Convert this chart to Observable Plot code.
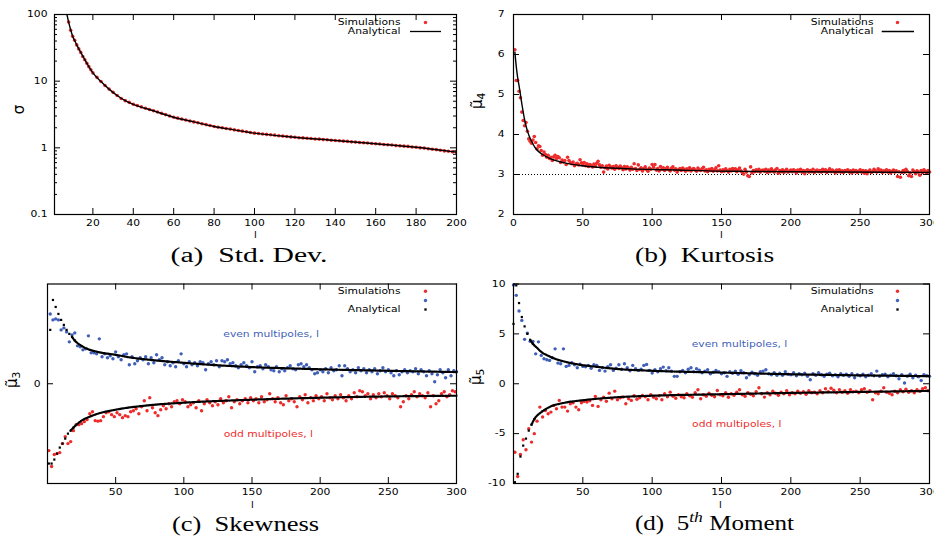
<!DOCTYPE html>
<html><head><meta charset="utf-8">
<script src="https://cdn.jsdelivr.net/npm/d3@7"></script>
<script src="https://cdn.jsdelivr.net/npm/@observablehq/plot@0.6"></script>
<style>
body{margin:0;background:#fff;}
#wrap{position:relative;width:934px;height:537px;overflow:hidden;background:#fff;}
.cap{position:absolute;font-family:"Liberation Serif",serif;font-size:20px;line-height:1;white-space:pre;color:#000;}
.ylab{position:absolute;font-family:"DejaVu Sans",sans-serif;font-size:15px;line-height:1;white-space:pre;color:#000;}
.ylab sub{font-size:0.72em;vertical-align:-0.25em;}
</style></head>
<body><div id="wrap"></div>
<script>
// ---------------- DATA ----------------
const RED = "#ee2b2b", BLUE = "#3f5fb8";

// (a) Std. Dev. — simulations (l = 8..19, then 20..200 step 2)
const aSimL = [...d3.range(8, 20), ...d3.range(20, 201, 2)];
const aSim = [77,58,47,41,35,30.5,27,23.5,21,18.5,16.5,14.8,
  13.3,11.4,9.9,8.6,7.6,6.8,6.1,5.5,5.1,4.8,
  4.5,4.30,4.11,3.93,3.76,3.60,3.44,3.29,3.15,3.01,
  2.88,2.79,2.70,2.62,2.53,2.45,2.38,2.30,2.23,2.16,
  2.09,2.04,2.00,1.95,1.91,1.86,1.82,1.78,1.74,1.70,
  1.66,1.64,1.61,1.59,1.57,1.55,1.52,1.50,1.48,1.46,
  1.44,1.42,1.41,1.39,1.38,1.36,1.35,1.33,1.32,1.30,
  1.29,1.28,1.26,1.25,1.23,1.22,1.20,1.19,1.18,1.16,
  1.15,1.14,1.12,1.11,1.10,1.08,1.07,1.06,1.05,1.03,
  1.02,1.00,0.99,0.97,0.95,0.94,0.92,0.90,0.89,0.87,
  0.86];
// (a) analytical curve
const aAnaL = [7,8,9,10,11,12,14,16,18,20,24,28,32,36,40,50,60,70,80,90,100,120,140,160,180,200];
const aAna  = [105,77,59,47,40.5,35,27,21,16.5,13.3,9.9,7.6,6.1,5.1,4.5,3.6,2.88,2.45,2.09,1.86,1.66,1.44,1.29,1.15,1.02,0.86];
const aXTicks = [20,40,60,80,100,120,140,160,180,200];
const aYTicks = [0.1,1,10,100];
const aYMinor = [0.2,0.3,0.4,0.5,0.6,0.7,0.8,0.9,2,3,4,5,6,7,8,9,20,30,40,50,60,70,80,90];

// (b) Kurtosis — simulations for l = 1..300
const bSim = [
 6.12,5.35,5.35,5.08,4.92,4.56,4.35,4.22,4.30,4.08,
 3.89,3.83,3.78,3.86,3.95,3.80,3.64,3.72,3.70,3.60,
 3.48,3.56,3.50,3.43,3.48,3.40,3.43,3.35,3.44,3.48,
 3.40,3.45,3.42,3.30,3.36,3.32,3.35,3.25,3.43,3.35,
 3.30,3.27,3.31,3.22,3.26,3.28,3.24,3.37,3.29,3.24,
 3.30,3.22,3.27,3.20,3.25,3.23,3.19,3.26,3.21,3.28,
 3.33,3.24,3.18,3.22,3.06,3.17,3.21,3.14,3.23,3.19,
 3.16,3.20,3.13,3.22,3.18,3.15,3.21,3.17,3.12,3.20,
 3.14,3.19,3.16,3.11,3.18,3.13,3.27,3.15,3.10,3.24,
 3.13,3.17,3.09,3.14,3.19,3.12,3.08,3.16,3.13,3.25,
 3.18,3.25,3.11,3.15,3.09,3.20,3.13,3.17,3.10,3.14,
 3.18,3.12,3.09,3.16,3.19,3.11,3.14,3.06,3.12,3.15,
 3.10,3.16,3.13,3.08,3.14,3.11,3.17,3.09,3.13,3.15,
 3.11,3.08,3.16,3.12,3.10,3.14,3.18,3.09,3.12,3.07,
 3.13,3.10,3.15,3.08,3.12,3.17,3.09,3.22,3.11,3.07,
 3.12,3.08,3.14,3.10,3.06,3.13,3.09,3.15,3.11,3.14,
 3.07,3.12,3.16,3.09,3.05,3.01,3.13,3.06,2.97,2.95,
 3.19,3.04,3.10,3.07,3.12,3.08,3.13,3.06,3.10,3.11,
 3.08,3.13,3.05,3.11,3.07,3.14,3.09,3.06,3.12,3.15,
 3.03,3.10,3.07,3.12,3.05,3.09,3.13,3.06,3.08,3.11,
 3.07,3.12,3.09,3.04,3.11,3.08,3.13,3.06,3.10,3.02,
 3.09,3.12,3.06,3.10,3.07,3.13,3.05,3.09,3.11,3.07,
 3.10,3.06,3.13,3.08,3.12,3.05,3.09,3.14,3.07,3.11,
 3.08,3.04,3.11,3.07,3.12,3.06,3.09,3.05,3.10,3.08,
 3.12,3.06,3.09,3.04,3.11,3.07,3.10,3.05,3.08,3.12,
 3.06,3.10,3.03,3.09,3.02,3.08,3.11,3.05,3.07,3.13,
 3.09,3.06,3.14,3.08,3.11,3.05,3.09,3.07,3.12,3.06,
 3.10,3.04,3.08,3.11,3.06,3.09,2.95,3.07,2.93,3.05,
 3.10,3.06,3.13,3.08,2.97,3.04,2.95,3.11,3.07,3.02,
 3.09,3.06,2.98,3.10,3.05,3.12,3.08,3.04,3.10,3.06];
const bAnaL = [1,2,3,4,6,8,10,13,16,21,27,37,49,61,85,110,157,205,300];
const bAna  = [6.06,5.7,5.42,5.22,4.77,4.37,4.09,3.83,3.65,3.5,3.39,3.29,3.22,3.18,3.14,3.12,3.08,3.07,3.05];
const bGauss = 3;
const bXTicks = [0,50,100,150,200,250,300];
const bYTicks = [2,3,4,5,6,7];

// (c) Skewness — even l = 2..300 (blue), odd l = 1..299 (red)
const cEven = [
 0.70,0.64,0.65,0.64,0.54,0.56,0.52,0.42,0.49,0.51,
 0.38,0.37,0.34,0.35,0.48,0.31,0.31,0.30,0.45,0.27,
 0.30,0.26,0.28,0.25,0.32,0.27,0.24,0.29,0.30,0.19,
 0.27,0.20,0.23,0.26,0.24,0.27,0.20,0.26,0.21,0.29,
 0.24,0.26,0.19,0.22,0.18,0.21,0.17,0.23,0.30,0.20,
 0.17,0.22,0.19,0.21,0.18,0.22,0.21,0.14,0.20,0.22,
 0.19,0.23,0.17,0.23,0.22,0.24,0.20,0.21,0.18,0.16,
 0.19,0.21,0.18,0.16,0.22,0.12,0.17,0.18,0.15,0.19,
 0.17,0.14,0.13,0.17,0.12,0.15,0.13,0.16,0.18,0.15,
 0.14,0.19,0.20,0.17,0.19,0.16,0.14,0.10,0.11,0.14,
 0.12,0.15,0.11,0.16,0.13,0.14,0.18,0.08,0.18,0.15,
 0.12,0.14,0.11,0.16,0.13,0.15,0.11,0.14,0.12,0.15,
 0.10,0.13,0.16,0.12,0.14,0.11,0.08,0.13,0.09,0.12,
 0.14,0.11,0.13,0.12,0.15,0.10,0.14,0.12,0.08,0.13,
 0.10,0.02,0.09,0.14,0.11,0.06,0.14,0.08,0.13,0.12];
const cOdd = [
 -0.67,-0.83,-0.71,-0.70,-0.69,-0.60,-0.53,-0.60,-0.58,-0.47,
 -0.41,-0.41,-0.40,-0.38,-0.36,-0.30,-0.28,-0.37,-0.375,-0.37,
 -0.33,-0.29,-0.28,-0.31,-0.33,-0.29,-0.31,-0.34,-0.32,-0.33,
 -0.28,-0.27,-0.25,-0.30,-0.23,-0.17,-0.27,-0.14,-0.24,-0.29,
 -0.32,-0.26,-0.22,-0.25,-0.20,-0.23,-0.18,-0.17,-0.20,-0.16,
 -0.18,-0.23,-0.21,-0.19,-0.24,-0.17,-0.27,-0.20,-0.16,-0.19,
 -0.22,-0.18,-0.21,-0.15,-0.19,-0.17,-0.13,-0.24,-0.18,-0.16,
 -0.20,-0.17,-0.15,-0.19,-0.14,-0.17,-0.15,-0.19,-0.13,-0.18,
 -0.16,-0.10,-0.15,-0.18,-0.14,-0.19,-0.21,-0.12,-0.17,-0.15,
 -0.18,-0.23,-0.13,-0.16,-0.11,-0.19,-0.14,-0.17,-0.12,-0.15,
 -0.13,-0.17,-0.10,-0.14,-0.16,-0.12,-0.15,-0.11,-0.14,-0.17,
 -0.12,-0.15,-0.09,-0.13,-0.07,-0.08,-0.12,-0.10,-0.15,-0.11,
 -0.14,-0.10,-0.13,-0.09,-0.12,-0.15,-0.10,-0.12,-0.14,-0.23,
 -0.18,-0.12,-0.15,-0.11,-0.08,-0.13,-0.10,-0.12,-0.14,-0.09,
 -0.23,-0.12,-0.20,-0.17,-0.10,-0.08,-0.13,-0.11,-0.07,-0.08];
// (c) analytical: separate early points, then smooth curve
const cAnaEvenPtsL = [2,4,6,8,10,12,14,16,18,20];
const cAnaEvenPts  = [0.54,0.84,0.77,0.70,0.64,0.59,0.54,0.50,0.47,0.434];
const cAnaEvenL = [18,20,25,30,35,40,50,60,75,100,125,150,175,200,250,300];
const cAnaEven  = [0.47,0.434,0.38,0.345,0.325,0.31,0.29,0.265,0.24,0.21,0.185,0.167,0.155,0.145,0.13,0.117];
const cAnaOddPtsL = [1,3,5,7,9,11,13,15,17,19];
const cAnaOddPts  = [-0.80,-0.80,-0.76,-0.70,-0.64,-0.60,-0.55,-0.50,-0.47,-0.44];
const cAnaOddL = [17,19,25,31,37,50,75,100,150,200,250,300];
const cAnaOdd  = [-0.47,-0.44,-0.37,-0.33,-0.30,-0.26,-0.215,-0.19,-0.16,-0.14,-0.127,-0.12];
const cXTicks = [50,100,150,200,250,300];
const cYTicks = [0];

// (d) 5th moment — even l = 0..300 (blue), odd l = 1..299 (red)
const dEven = [
 9.9,8.86,7.29,6.35,4.45,5.08,4.25,4.25,3.0,4.2,
 2.84,2.5,2.4,2.34,2.6,3.5,2.07,2.0,3.5,1.74,
 1.84,2.1,1.9,1.6,1.95,1.74,1.7,1.84,1.55,1.9,
 1.84,1.34,1.6,1.27,1.7,1.9,1.34,1.55,1.9,1.45,
 2.0,1.6,1.3,1.84,1.5,1.34,1.45,1.84,1.94,1.34,
 1.07,1.4,1.2,1.5,1.67,1.3,1.6,1.25,0.74,0.74,
 1.2,1.34,1.1,1.45,1.6,1.2,1.5,1.35,1.1,1.25,
 1.4,1.0,1.15,1.34,1.2,1.0,1.1,0.74,1.2,1.05,
 1.25,0.95,1.3,1.1,0.6,0.9,1.15,1.0,0.85,1.2,
 1.27,1.4,1.0,0.9,1.1,0.85,1.05,0.84,1.2,0.95,
 0.9,1.1,0.8,1.0,0.9,1.05,0.75,0.4,1.0,0.85,
 1.1,0.9,0.75,0.95,1.05,0.8,0.9,0.7,1.0,0.85,
 0.95,0.75,1.0,0.6,0.9,0.8,0.95,0.7,0.85,1.0,
 0.8,1.27,0.75,0.9,0.95,0.7,0.85,1.0,0.8,0.5,
 0.9,0.07,0.75,0.95,0.6,0.85,0.7,0.33,0.9,0.8,
 0.75];
const dOdd = [
 -6.86,-9.3,-7.09,-5.62,-6.62,-4.5,-5.85,-5.0,-3.75,-2.34,
 -3.34,-2.68,-3.0,-2.84,-2.17,-2.5,-1.67,-2.34,-2.34,-2.74,
 -2.0,-1.9,-2.34,-2.6,-1.9,-1.77,-1.84,-1.7,-2.17,-1.27,
 -2.27,-1.6,-1.34,-1.75,-0.94,-1.5,-0.74,-1.6,-1.4,-1.34,
 -2.0,-1.5,-1.67,-1.2,-1.55,-1.4,-1.17,-1.3,-1.6,-1.1,
 -1.35,-1.5,-1.2,-1.6,-1.0,-1.3,-0.84,-1.25,-1.45,-1.1,
 -1.3,-1.4,-1.0,-1.2,-1.35,-0.9,-0.6,-1.5,-1.1,-1.25,
 -0.95,-1.15,-1.3,-0.67,-1.1,-1.2,-0.9,-1.35,-1.0,-1.15,
 -0.85,-0.6,-1.1,-1.25,-0.9,-1.05,-1.2,-0.8,-0.4,-1.0,
 -1.34,-0.9,-1.1,-0.75,-0.95,-1.15,-0.85,-1.0,-0.7,-1.1,
 -0.9,-1.0,-0.75,-0.95,-0.8,-1.05,-0.7,-0.9,-0.85,-1.0,
 -0.7,-0.9,-0.5,-0.8,-0.45,-0.65,-0.9,-0.6,-0.85,-0.7,
 -0.95,-0.6,-0.8,-0.75,-0.9,-0.6,-0.5,-0.85,-0.7,-1.6,
 -0.9,-1.0,-0.75,-0.4,-0.85,-0.95,-1.1,-0.75,-0.9,-0.6,
 -0.8,-0.55,-0.85,-0.7,-0.9,-0.6,-0.75,-0.5,-0.4,-0.7];
const dAnaEvenPtsL = [0,2,4,6,8,10,12,14];
const dAnaEvenPts  = [6.0,9.86,8.09,6.69,5.75,5.0,4.4,4.0];
const dAnaEvenL = [12,14,17,20,25,30,36,48,60,73,100,150,200,250,300];
const dAnaEven  = [4.4,4.0,3.6,3.2,2.8,2.5,2.25,1.9,1.7,1.5,1.3,1.12,0.95,0.84,0.76];
const dAnaOddPtsL = [1,3,5,7,9,11,13,15];
const dAnaOddPts  = [-9.87,-9.03,-7.3,-6.2,-5.5,-4.7,-4.1,-3.55];
const dAnaOddL = [13,15,20,25,37,49,75,100,150,200,250,299];
const dAnaOdd  = [-4.1,-3.55,-2.85,-2.4,-1.9,-1.67,-1.35,-1.2,-1.05,-0.92,-0.82,-0.72];
const dXTicks = [50,100,150,200,250,300];
const dYTicks = [-10,-5,0,5,10];

const legendSim = "Simulations", legendAna = "Analytical";
const evenText = "even multipoles, l", oddText = "odd multipoles, l";
const xName = "l";

// ---------------- HELPERS ----------------
const wrap = document.getElementById("wrap");
const zip = (xs, ys) => xs.map((x, i) => ({x, y: ys[i]}));
const FONT = "DejaVu Sans";
const FS = 8.6;          // font size of the sans texts
const STRETCH = 1.25;    // horizontal stretch of the sans texts

function frameTicks(xt, yt, fw, fh, len) {
  const s = {stroke: "#000", strokeWidth: 1};
  return [
    Plot.tickX(xt, {x: d => d, insetTop: fh - len, ...s}),
    Plot.tickX(xt, {x: d => d, insetBottom: fh - len, ...s}),
    Plot.tickY(yt, {y: d => d, insetRight: fw - len, ...s}),
    Plot.tickY(yt, {y: d => d, insetLeft: fw - len, ...s})
  ];
}

function stretchTexts(svg) {
  svg.querySelectorAll("text").forEach(t => {
    const tr = t.getAttribute("transform");
    if (tr) t.setAttribute("transform", tr + ` scale(${STRETCH},1)`);
    else {
      const x = +(t.getAttribute("x") || 0), y = +(t.getAttribute("y") || 0);
      t.removeAttribute("x"); t.removeAttribute("y");
      t.setAttribute("transform", `translate(${x},${y}) scale(${STRETCH},1)`);
    }
  });
}

function panel(cfg) {
  const {left, top, W, H, mL, mR, mT, mB, x, y, xt, yt, yMinor, padY, marks, legend, xlab} = cfg;
  const fw = W - mL - mR, fh = H - mT - mB;
  const sx = Plot.scale({x: {...x, range: [mL, W - mR]}});
  const sy = Plot.scale({y: {...y, range: [H - mB, mT]}});
  const P = (px, py) => ({x: sx.invert(px), y: sy.invert(py)});
  const legMarks = legend(P);
  const lp = P(xlab[0], xlab[1]);
  const svg = Plot.plot({
    width: W, height: H, marginLeft: mL, marginRight: mR, marginTop: mT, marginBottom: mB,
    x, y,
    style: {fontFamily: FONT, fontSize: FS + "px", color: "#000", background: "transparent", overflow: "visible"},
    marks: [
      ...marks,
      ...frameTicks(xt, yt, fw, fh, 6),
      ...(yMinor ? frameTicks([], yMinor, fw, fh, 3) : []),
      Plot.axisX(xt, {anchor: "bottom", tickSize: 0, tickPadding: 5, label: null, tickFormat: d => String(d)}),
      Plot.axisY(yt, {anchor: "left", tickSize: 0, tickPadding: padY, label: null, tickFormat: d => String(d)}),
      Plot.frame({stroke: "#000", strokeWidth: 1.2}),
      Plot.text([{...lp, t: xName}], {x: "x", y: "y", text: "t", fontSize: 8, lineAnchor: "middle", fill: "#000", clip: false}),
      ...legMarks
    ]
  });
  stretchTexts(svg);
  svg.style.position = "absolute";
  svg.style.left = left + "px";
  svg.style.top = top + "px";
  wrap.appendChild(svg);
}

function legendText(P, px, py, t) {
  const p = P(px, py);
  return Plot.text([{...p, t}], {x: "x", y: "y", text: "t", textAnchor: "end", lineAnchor: "middle", fontSize: FS, fill: "#000"});
}
function legendDot(P, px, py, color, sym) {
  return Plot.dot([P(px, py)], {x: "x", y: "y", r: sym ? 1.3 : 1.7, symbol: sym || "circle", fill: color, stroke: "none"});
}
function legendLine(P, px1, px2, py) {
  const a = P(px1, py), b = P(px2, py);
  return Plot.ruleY([a.y], {x1: a.x, x2: b.x, stroke: "#000", strokeWidth: 1.3});
}

// ---------------- PANEL (a) ----------------
panel({
  left: 0, top: 0, W: 467, H: 245, mL: 54, mR: 11, mT: 14, mB: 31, padY: 7,
  x: {domain: [1, 200]}, y: {type: "log", domain: [0.1, 100]},
  xt: aXTicks, yt: aYTicks, yMinor: aYMinor, xlab: [255, 235],
  marks: [
    Plot.dot(zip(aSimL, aSim), {x: "x", y: "y", r: 1.8, fill: RED, stroke: "none", clip: true}),
    Plot.line(zip(aAnaL, aAna), {x: "x", y: "y", stroke: "#000", strokeWidth: 1.4, curve: "monotone-x", clip: true})
  ],
  legend: P => [legendText(P, 400, 22, legendSim), legendDot(P, 425, 22, RED),
                legendText(P, 400, 31, legendAna), legendLine(P, 410, 441, 31)]
});

// ---------------- PANEL (b) ----------------
panel({
  left: 464, top: 0, W: 470, H: 245, mL: 49, mR: 5, mT: 14, mB: 31, padY: 9,
  x: {domain: [0, 300]}, y: {domain: [2, 7]},
  xt: bXTicks, yt: bYTicks, xlab: [257, 235],
  marks: [
    Plot.ruleY([bGauss], {stroke: "#000", strokeWidth: 1, strokeDasharray: "1,2"}),
    Plot.dot(bSim.map((v, i) => ({x: i + 1, y: v})), {x: "x", y: "y", r: 1.8, fill: RED, stroke: "none"}),
    Plot.line(zip(bAnaL, bAna), {x: "x", y: "y", stroke: "#000", strokeWidth: 1.4, curve: "monotone-x"})
  ],
  legend: P => [legendText(P, 409, 22, legendSim), legendDot(P, 433, 22, RED),
                legendText(P, 409, 31, legendAna), legendLine(P, 417.7, 450, 31)]
});

// ---------------- PANELS (c), (d) ----------------
function moments(evenArr, evenStart, oddArr, ePtsL, ePts, eL, eV, oPtsL, oPts, oL, oV) {
  const sq = {x: "x", y: "y", r: 1.25, symbol: "square", fill: "#000", stroke: "none"};
  const ln = {x: "x", y: "y", stroke: "#000", strokeWidth: 2.2, strokeDasharray: "1.7,1", curve: "monotone-x"};
  return [
    Plot.dot(evenArr.map((v, i) => ({x: evenStart + 2 * i, y: v})), {x: "x", y: "y", r: 1.7, fill: BLUE, stroke: "none"}),
    Plot.dot(oddArr.map((v, i) => ({x: 1 + 2 * i, y: v})), {x: "x", y: "y", r: 1.7, fill: RED, stroke: "none"}),
    Plot.line(zip(eL, eV), ln),
    Plot.line(zip(oL, oV), ln),
    Plot.dot(zip(ePtsL, ePts), sq),
    Plot.dot(zip(oPtsL, oPts), sq)
  ];
}
panel({
  left: 0, top: 270, W: 467, H: 245, mL: 47, mR: 11, mT: 13.5, mB: 32, padY: 7,
  x: {domain: [0, 300]}, y: {domain: [-1, 1]},
  xt: cXTicks, yt: cYTicks, xlab: [252, 235],
  marks: [
    ...moments(cEven, 2, cOdd, cAnaEvenPtsL, cAnaEvenPts, cAnaEvenL, cAnaEven, cAnaOddPtsL, cAnaOddPts, cAnaOddL, cAnaOdd),
    Plot.text([{x: 164, y: 0.5, t: evenText}], {x: "x", y: "y", text: "t", fill: BLUE, fontSize: FS}),
    Plot.text([{x: 162, y: -0.51, t: oddText}], {x: "x", y: "y", text: "t", fill: RED, fontSize: FS})
  ],
  legend: P => [legendText(P, 400, 20.7, legendSim), legendDot(P, 425, 20.7, RED),
                legendDot(P, 425, 30, BLUE),
                legendText(P, 400, 39, legendAna), legendDot(P, 425, 39, "#000", "square")]
});

panel({
  left: 464, top: 270, W: 470, H: 245, mL: 49, mR: 5, mT: 13.5, mB: 32, padY: 8,
  x: {domain: [0, 300]}, y: {domain: [-10, 10]},
  xt: dXTicks, yt: dYTicks, xlab: [256, 235],
  marks: [
    ...moments(dEven, 0, dOdd, dAnaEvenPtsL, dAnaEvenPts, dAnaEvenL, dAnaEven, dAnaOddPtsL, dAnaOddPts, dAnaOddL, dAnaOdd),
    Plot.text([{x: 163, y: 3.94, t: evenText}], {x: "x", y: "y", text: "t", fill: BLUE, fontSize: FS}),
    Plot.text([{x: 161, y: -4.08, t: oddText}], {x: "x", y: "y", text: "t", fill: RED, fontSize: FS})
  ],
  legend: P => [legendText(P, 409, 20.7, legendSim), legendDot(P, 433, 20.7, RED),
                legendDot(P, 433, 30, BLUE),
                legendText(P, 409, 39, legendAna), legendDot(P, 433, 39, "#000", "square")]
});

// ---------------- AXIS NAMES AND CAPTIONS ----------------
function place(cls, html, cx, cy, rot, target) {
  const d = document.createElement("div");
  d.className = cls; d.innerHTML = html;
  wrap.appendChild(d);
  const w = d.offsetWidth, h = d.offsetHeight;
  d.style.left = (cx - w / 2) + "px";
  d.style.top = (cy - h / 2) + "px";
  const tr = [];
  if (rot) tr.push(`rotate(${rot}deg)`);
  if (target) tr.push(`scaleX(${target / w})`);
  if (tr.length) d.style.transform = tr.join(" ");
}
place("ylab", "σ", 20, 109, -90);
place("ylab", "μ̃<sub>4</sub>", 479, 100, -90);
place("ylab", "μ̃<sub>3</sub>", 14, 379, -90);
place("ylab", "μ̃<sub>5</sub>", 478, 376, -90);
place("cap", "(a)  Std. Dev.", 248.5, 255, 0, 157);
place("cap", "(b)  Kurtosis", 704.5, 255, 0, 139);
place("cap", "(c)  Skewness", 245.5, 524, 0, 147);
place("cap", "(d)  5<span style=\"font-size:0.7em;font-style:italic;vertical-align:0.6em\">th</span> Moment", 714.5, 522, 0, 159);
</script>
</body></html>
